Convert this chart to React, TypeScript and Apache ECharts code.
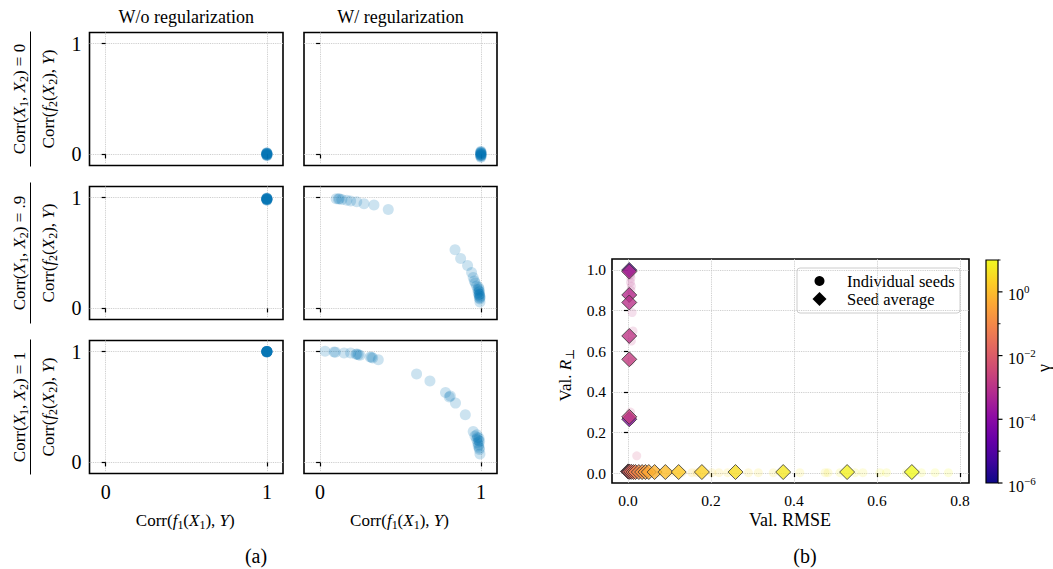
import React, { useEffect, useRef } from 'react';
import * as echarts from 'echarts';

const SERIF = 'Liberation Serif, DejaVu Serif, serif';
const BLUE = '#0173b2';

// ---------- Panel (a) data: [Corr(f1(X1),Y), Corr(f2(X2),Y)] ----------
const panelTitles = ['W/o regularization', 'W/ regularization'];
const rowRhoLabels = ['0', '.9', '1'];
const aTicks = [0, 1];

const woReg_rho0: number[][] = [
  [1, -0.012], [1, -0.008], [1, -0.004], [1, 0], [1, 0.003], [1, 0.006], [1, 0.01], [1, 0.013],
  [0.998, 0.002], [1, -0.002], [1, 0.008], [0.999, 0.011], [1, -0.006], [1, 0.004], [1, 0.015],
];
const wReg_rho0: number[][] = [
  [1, -0.025], [1, -0.018], [1, -0.01], [1, -0.004], [1, 0], [1, 0.005], [1, 0.01], [1, 0.016],
  [1, 0.022], [1, 0.028], [0.999, -0.015], [1, 0.002], [1, 0.012], [0.999, 0.019], [1, -0.007],
];
const woReg_rho9: number[][] = [
  [1, 0.975], [1, 0.98], [1, 0.984], [1, 0.988], [1, 0.99], [1, 0.993], [1, 0.996], [0.999, 0.985],
  [1, 0.978], [1, 0.987], [1, 0.991], [1, 0.982], [0.999, 0.992], [1, 0.986], [1, 0.989],
];
const wReg_rho9: number[][] = [
  [0.1, 0.99], [0.114, 0.988], [0.12, 0.99], [0.135, 0.982], [0.166, 0.975], [0.19, 0.97],
  [0.228, 0.963], [0.273, 0.945], [0.335, 0.933], [0.424, 0.893], [0.839, 0.529], [0.874, 0.45],
  [0.917, 0.388], [0.942, 0.324], [0.952, 0.278], [0.959, 0.248], [0.965, 0.23], [0.973, 0.202],
  [0.98, 0.171], [0.983, 0.141], [0.988, 0.119], [0.99, 0.095], [0.994, 0.058], [0.985, 0.19],
  [0.987, 0.16], [0.99, 0.15], [0.992, 0.13], [0.993, 0.11], [0.99, 0.125], [0.995, 0.1],
  [0.989, 0.175], [0.993, 0.085],
];
const woReg_rho1: number[][] = [
  [1, 0.995], [1, 0.997], [1, 0.999], [1, 1.0], [1, 1.0], [1, 1.0], [1, 1.001], [1, 1.002],
  [0.999, 0.998], [1, 1.0], [1, 0.999], [1, 1.0], [1, 1.0], [1, 1.0], [1, 1.0],
];
const wReg_rho1: number[][] = [
  [0.031, 1.003], [0.087, 0.997], [0.095, 0.995], [0.149, 0.988], [0.19, 0.988], [0.224, 0.975],
  [0.238, 0.972], [0.248, 0.966], [0.23, 0.978], [0.311, 0.951], [0.327, 0.942], [0.32, 0.948],
  [0.362, 0.927], [0.6, 0.798], [0.683, 0.734], [0.78, 0.63], [0.803, 0.59], [0.81, 0.6],
  [0.842, 0.535], [0.903, 0.431], [0.952, 0.278], [0.963, 0.239], [0.973, 0.208], [0.98, 0.177],
  [0.983, 0.147], [0.99, 0.116], [0.994, 0.076], [0.975, 0.25], [0.985, 0.2], [0.987, 0.16],
  [0.99, 0.13], [0.992, 0.19], [0.978, 0.225], [0.988, 0.22],
];
const panelData = [
  [woReg_rho0, wReg_rho0],
  [woReg_rho9, wReg_rho9],
  [woReg_rho1, wReg_rho1],
];

// ---------- Panel (b) data ----------
const seedAvgRmse = [0.003, 0.003, 0.003, 0.003, 0.003, 0.003, 0.003, 0.003,
  0.0, 0.001, 0.002, 0.004, 0.008, 0.013, 0.018, 0.026, 0.034, 0.042, 0.05, 0.064, 0.09, 0.122, 0.178, 0.259, 0.374, 0.528, 0.684];
const seedAvgR = [1.0, 0.992, 0.877, 0.84, 0.675, 0.56, 0.265, 0.277,
  0.008, 0.008, 0.007, 0.006, 0.006, 0.005, 0.005, 0.005, 0.005, 0.005, 0.005, 0.005, 0.005, 0.005, 0.005, 0.005, 0.005, 0.005, 0.005];
const seedAvgLogGamma = [-5, -3.2, -3.1, -3.0, -2.9, -2.75, -4, -2.7,
  -2.4, -2.2, -2.0, -1.8, -1.6, -1.4, -1.2, -1.0, -0.8, -0.6, -0.4, -0.2, 0.0, 0.2, 0.35, 0.55, 0.7, 0.85, 1.0];

const seedRmse = [0.006, 0.006, 0.007, 0.006, 0.008, 0.007, 0.006, 0.01, 0.012, 0.008, 0.006, 0.006, 0.007, 0.021,
  0.005, 0.012, 0.02, 0.03, 0.045, 0.06, 0.075,
  0.1, 0.115, 0.13, 0.154, 0.166, 0.202, 0.219, 0.24, 0.29, 0.314, 0.35, 0.414, 0.475, 0.482, 0.511, 0.547, 0.566, 0.607, 0.623, 0.671, 0.707, 0.74, 0.772];
const seedR = [0.99, 0.975, 0.96, 0.94, 0.92, 0.9, 0.88, 0.79, 0.7, 0.65, 0.55, 0.3, 0.26, 0.085,
  0.003, 0.003, 0.003, 0.003, 0.003, 0.003, 0.003,
  0.002, 0.002, 0.002, 0.002, 0.002, 0.002, 0.002, 0.002, 0.002, 0.002, 0.002, 0.002, 0.002, 0.002, 0.002, 0.002, 0.002, 0.002, 0.002, 0.002, 0.002, 0.002, 0.002];
const seedLogGamma = [-3.1, -3.1, -3.0, -3.0, -3.0, -2.9, -2.9, -2.9, -2.8, -2.8, -2.75, -2.7, -2.7, -2.5,
  -1.5, -1.2, -1.0, -0.8, -0.5, -0.3, -0.1,
  0.1, 0.15, 0.2, 0.3, 0.3, 0.35, 0.4, 0.45, 0.5, 0.55, 0.6, 0.65, 0.7, 0.7, 0.75, 0.8, 0.8, 0.85, 0.85, 0.9, 0.95, 1.0, 1.0];

const bXTicks = [0, 0.2, 0.4, 0.6, 0.8];
const bYTicks = [0, 0.2, 0.4, 0.6, 0.8, 1.0];
const G_MIN = -6;
const G_MAX = 1;
const cbMajor = [0, -2, -4, -6];
const cbMinor = [1, -1, -3, -5];

// ---------- colour map ----------
const PLASMA = ['#0d0887', '#41049d', '#6a00a8', '#8f0da4', '#b12a90', '#cc4778', '#e16462', '#f2844b', '#fca636', '#fcce25', '#f0f921'];
function hexRgb(h: string) {
  return [parseInt(h.slice(1, 3), 16), parseInt(h.slice(3, 5), 16), parseInt(h.slice(5, 7), 16)];
}
function plasma(t: number, a = 1) {
  const tt = Math.max(0, Math.min(1, t));
  const n = PLASMA.length - 1;
  const f = tt * n;
  const i = Math.min(Math.floor(f), n - 1);
  const u = f - i;
  const c0 = hexRgb(PLASMA[i]);
  const c1 = hexRgb(PLASMA[i + 1]);
  const c = c0.map((v, k) => Math.round(v + (c1[k] - v) * u));
  return `rgba(${c[0]},${c[1]},${c[2]},${a})`;
}
const gNorm = (g: number) => (g - G_MIN) / (G_MAX - G_MIN);

// ---------- layout ----------
const COLS = [{ left: 89.5, width: 193.5 }, { left: 304, width: 193 }];
const ROWS = [{ top: 32.5, height: 133 }, { top: 186.5, height: 133 }, { top: 340.5, height: 133 }];
const B = { left: 612, top: 259, width: 357, height: 224 };
const CB = { left: 986, top: 260, width: 12, height: 223 };

const tok = (size: number, lh: number, extra: any = {}) => ({ fontFamily: SERIF, fontSize: size, lineHeight: lh, verticalAlign: 'middle', color: '#000', ...extra });
const RICH = {
  n: tok(17, 22),
  i: tok(17, 22, { fontStyle: 'italic' }),
  s: tok(12, 13, { verticalAlign: 'bottom' }),
  b: tok(16, 22),
  p: tok(11, 10, { verticalAlign: 'top' }),
  t: tok(18, 22),
  l: tok(16.5, 20),
  c: tok(20, 24),
  g: tok(18, 14),
};
const plainText = (x: number, y: number, s: string, style: string, extra: any = {}) => ({
  type: 'text', x, y, ...extra,
  style: { text: `{${style}|${s}}`, rich: RICH, align: extra.align || 'center', verticalAlign: 'middle' },
});

const gridLine = { show: true, lineStyle: { color: '#c4c4c4', type: 'dotted', width: 0.9 } };
const tickStyle = { lineStyle: { color: '#000', width: 1.2 } };

export default function App() {
  const ref = useRef<HTMLDivElement>(null);
  useEffect(() => {
    document.body.style.margin = '0';
    const chart = echarts.init(ref.current!, null, { renderer: 'svg' });

    const grid: any[] = [];
    const xAxis: any[] = [];
    const yAxis: any[] = [];
    const series: any[] = [];
    const graphic: any[] = [];

    ROWS.forEach((r, ri) => {
      COLS.forEach((c, ci) => {
        const idx = grid.length;
        grid.push({ left: c.left, top: r.top, width: c.width, height: r.height, show: true, borderColor: '#000', borderWidth: 1.6, backgroundColor: 'transparent' });
        xAxis.push({
          gridIndex: idx, type: 'value', min: -0.1, max: 1.1,
          axisLine: { show: false },
          axisTick: { show: true, length: 4, customValues: aTicks, ...tickStyle },
          axisLabel: { show: ri === 2, customValues: aTicks, fontFamily: SERIF, fontSize: 20, color: '#000', margin: 8 },
          splitLine: gridLine,
        });
        yAxis.push({
          gridIndex: idx, type: 'value', min: -0.1, max: 1.1,
          axisLine: { show: false },
          axisTick: { show: true, length: 4, customValues: aTicks, ...tickStyle },
          axisLabel: { show: ci === 0, customValues: aTicks, fontFamily: SERIF, fontSize: 20, color: '#000', margin: 8 },
          splitLine: gridLine,
        });
        series.push({
          type: 'scatter', xAxisIndex: idx, yAxisIndex: idx, symbolSize: 11,
          itemStyle: { color: BLUE, opacity: 0.2 }, data: panelData[ri][ci], silent: true,
        });
      });
    });

    // panel (b)
    const bi = grid.length;
    grid.push({ left: B.left, top: B.top, width: B.width, height: B.height, show: true, borderColor: '#000', borderWidth: 1.6, backgroundColor: 'transparent' });
    xAxis.push({
      gridIndex: bi, type: 'value', min: -0.0386, max: 0.8217,
      axisLine: { show: false },
      axisTick: { show: true, length: 4, customValues: bXTicks, ...tickStyle },
      axisLabel: { customValues: bXTicks, formatter: (v: number) => v.toFixed(1), fontFamily: SERIF, fontSize: 15.5, color: '#000', margin: 9 },
      splitLine: gridLine,
    });
    yAxis.push({
      gridIndex: bi, type: 'value', min: -0.049, max: 1.054,
      axisLine: { show: false },
      axisTick: { show: true, length: 4, customValues: bYTicks, ...tickStyle },
      axisLabel: { customValues: bYTicks, formatter: (v: number) => v.toFixed(1), fontFamily: SERIF, fontSize: 15.5, color: '#000', margin: 6 },
      splitLine: gridLine,
    });
    series.push({
      name: 'Individual seeds', type: 'scatter', xAxisIndex: bi, yAxisIndex: bi, symbolSize: 9, silent: true,
      itemStyle: { color: '#000' },
      data: seedRmse.map((x, k) => ({ value: [x, seedR[k]], itemStyle: { color: plasma(gNorm(seedLogGamma[k]), 0.2) } })),
    });
    series.push({
      name: 'Seed average', type: 'scatter', symbol: 'diamond', xAxisIndex: bi, yAxisIndex: bi, symbolSize: 15, silent: true,
      itemStyle: { color: '#000', borderColor: '#333', borderWidth: 1 },
      data: seedAvgRmse.map((x, k) => ({ value: [x, seedAvgR[k]], itemStyle: { color: plasma(gNorm(seedAvgLogGamma[k])) } })),
    });

    // titles and x labels of (a)
    panelTitles.forEach((t, ci) => {
      graphic.push(plainText(COLS[ci].left + COLS[ci].width / 2, 17, t, 't'));
      graphic.push({
        type: 'text', x: COLS[ci].left + COLS[ci].width / 2 - 1, y: 520,
        style: { text: '{n|Corr(}{i|f}{s|1}{n|(}{i|X}{s|1}{n|), }{i|Y}{n|)}', rich: RICH, align: 'center', verticalAlign: 'middle' },
      });
    });
    // row fraction labels
    const fracLen = [135, 141, 135];
    ROWS.forEach((r, ri) => {
      const cy = r.top + r.height / 2;
      graphic.push({
        type: 'text', x: 19, y: cy, rotation: Math.PI / 2,
        style: { text: `{n|Corr(}{i|X}{s|1}{n|, }{i|X}{s|2}{n|) = ${rowRhoLabels[ri]}}`, rich: RICH, align: 'center', verticalAlign: 'middle' },
      });
      graphic.push({
        type: 'line', shape: { x1: 30.5, y1: cy - fracLen[ri] / 2, x2: 30.5, y2: cy + fracLen[ri] / 2 },
        style: { stroke: '#000', lineWidth: 1 },
      });
      graphic.push({
        type: 'text', x: 48, y: cy, rotation: Math.PI / 2,
        style: { text: '{n|Corr(}{i|f}{s|2}{n|(}{i|X}{s|2}{n|), }{i|Y}{n|)}', rich: RICH, align: 'center', verticalAlign: 'middle' },
      });
    });
    graphic.push(plainText(256, 556, '(a)', 'c'));
    graphic.push(plainText(805, 556, '(b)', 'c'));

    // panel (b) axis names
    graphic.push(plainText(790, 520, 'Val. RMSE', 't'));
    graphic.push({
      type: 'text', x: 565, y: 375, rotation: Math.PI / 2,
      style: { text: '{n|Val. }{i|R}{s|⊥}', rich: RICH, align: 'center', verticalAlign: 'middle' },
    });

    // legend
    graphic.push({ type: 'rect', shape: { x: 797, y: 268, width: 163, height: 45, r: 3 }, style: { fill: 'rgba(255,255,255,0.8)', stroke: '#cccccc', lineWidth: 1 } });
    graphic.push({ type: 'circle', shape: { cx: 819.5, cy: 281, r: 5 }, style: { fill: '#000' } });
    graphic.push({ type: 'polygon', shape: { points: [[819.5, 292], [826.5, 299], [819.5, 306], [812.5, 299]] }, style: { fill: '#000' } });
    graphic.push(plainText(847, 281, 'Individual seeds', 'l', { align: 'left' }));
    graphic.push(plainText(847, 299, 'Seed average', 'l', { align: 'left' }));

    // colour bar
    graphic.push({
      type: 'rect', shape: { x: CB.left, y: CB.top, width: CB.width, height: CB.height },
      style: {
        fill: new echarts.graphic.LinearGradient(0, 1, 0, 0, PLASMA.map((c, k) => ({ offset: k / (PLASMA.length - 1), color: c }))),
        stroke: '#000', lineWidth: 1.2,
      },
    });
    const cbY = (g: number) => CB.top + CB.height - gNorm(g) * CB.height;
    cbMajor.forEach((g) => {
      const y = cbY(g);
      graphic.push({ type: 'line', shape: { x1: CB.left + CB.width, y1: y, x2: CB.left + CB.width + 4.5, y2: y }, style: { stroke: '#000', lineWidth: 1.2 } });
      const exp = g === 0 ? '0' : `−${Math.abs(g)}`;
      graphic.push({ type: 'text', x: 1008, y: y + 3, style: { text: `{b|10}{p|${exp}}`, rich: RICH, verticalAlign: 'middle' } });
    });
    cbMinor.forEach((g) => {
      const y = cbY(g);
      graphic.push({ type: 'line', shape: { x1: CB.left + CB.width, y1: y, x2: CB.left + CB.width + 2.5, y2: y }, style: { stroke: '#000', lineWidth: 0.9 } });
    });
    graphic.push(plainText(1044, 368, 'γ', 'g', { rotation: Math.PI / 2 }));

    chart.setOption({
      animation: false,
      backgroundColor: '#fff',
      grid, xAxis, yAxis, series, graphic,
    });
    return () => chart.dispose();
  }, []);
  return <div ref={ref} style={{ position: 'absolute', left: 0, top: 0, width: 1053, height: 569 }} />;
}
